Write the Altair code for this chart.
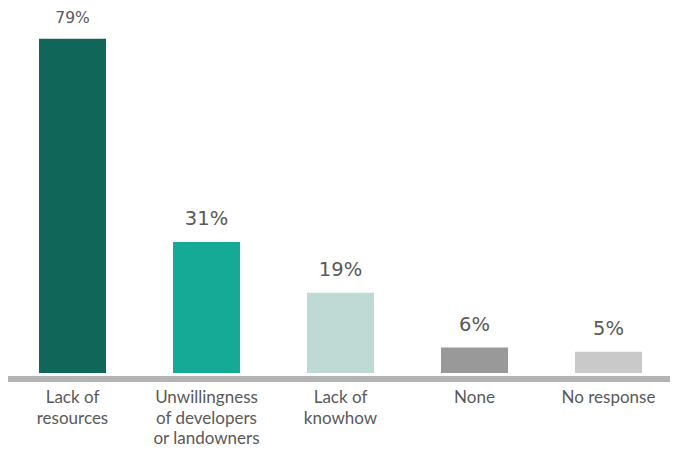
import altair as alt
import pandas as pd

categories = ["Lack of\nresources", "Unwillingness\nof developers\nor landowners",
              "Lack of\nknowhow", "None", "No response"]
values = [79, 31, 19, 6, 5]
labels = ["79%", "31%", "19%", "6%", "5%"]
colors = ["#0F6659", "#15AA96", "#BFDAD5", "#999999", "#C9C9C9"]

df = pd.DataFrame({"cat": categories, "value": values, "label": labels})

W, H = 670, 365
xs = alt.X("cat:N", sort=categories, axis=None,
           scale=alt.Scale(paddingInner=0.5, paddingOuter=0.25))
ys = alt.Y("value:Q", axis=None, scale=alt.Scale(domain=[0, 86.3], nice=False))

bars = alt.Chart(df).mark_bar().encode(
    x=xs, y=ys,
    color=alt.Color("cat:N", sort=categories,
                    scale=alt.Scale(domain=categories, range=colors), legend=None),
)

pct = alt.Chart(df).mark_text(baseline="bottom", font="DejaVu Sans", color="#595959", dy=-13).encode(
    x=xs, y=ys, text="label:N",
    size=alt.condition("datum.value > 50", alt.value(15.5), alt.value(19.5)),
)

cats = alt.Chart(df).mark_text(baseline="top", font="Lato", fontSize=17,
                               color="#595959", lineBreak="\n", lineHeight=20.5).encode(
    x=xs, y=alt.value(382), text="cat:N",
)

axis_line = alt.Chart(df).mark_rule(color="#B3B3B3", strokeWidth=5.5).encode(
    x=alt.value(2.5), x2=alt.value(672), y=alt.value(371)
)

chart = alt.layer(bars, axis_line, pct, cats).properties(
    width=W, height=H,
    autosize=alt.AutoSizeParams(type="none"),
    padding={"left": -2.5, "top": 0, "right": -5.5, "bottom": 78},
).configure_view(stroke=None)

chart.save("out.html", embed_options={"renderer": "svg", "actions": False})
